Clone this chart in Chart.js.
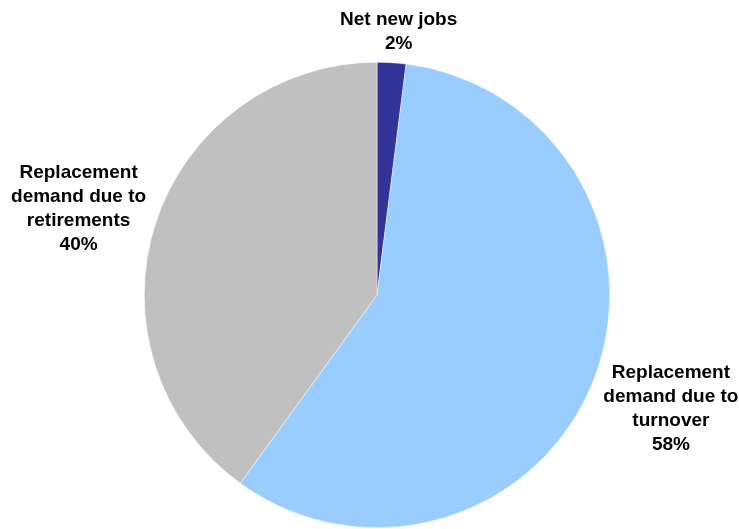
<!DOCTYPE html>
<html>
<head>
<meta charset="utf-8">
<script src="https://cdn.jsdelivr.net/npm/chart.js@4"></script>
<style>
  html, body { margin: 0; padding: 0; background: #ffffff; }
  #wrap { width: 739px; height: 529px; }
</style>
</head>
<body>
<div id="wrap"><canvas id="job-chart" width="739" height="529"></canvas></div>
<script>
// job openings breakdown
const categories = [
    ['Net new jobs'],
    ['Replacement', 'demand due to', 'turnover'],
    ['Replacement', 'demand due to', 'retirements']
];
const shares = [2, 58, 40];
const sliceColors = ['#333399', '#99CCFF', '#C0C0C0'];
// how far out each label sits (multiple of the radius), plus a small pixel nudge
const labelDistance = [1.14, 1.335, 1.33];
const labelNudge = [[5, 2], [5, -1], [-4, 9]];

const outsideLabels = {
    id: 'outsideLabels',
    afterDatasetsDraw(chart) {
        const ctx = chart.ctx;
        const meta = chart.getDatasetMeta(0);
        ctx.save();
        ctx.font = 'bold 19px "Liberation Sans", Arial, sans-serif';
        ctx.fillStyle = '#000000';
        ctx.textAlign = 'center';
        ctx.textBaseline = 'middle';
        meta.data.forEach(function (arc, i) {
            const mid = (arc.startAngle + arc.endAngle) / 2;
            const r = arc.outerRadius * labelDistance[i];
            const x = arc.x + Math.cos(mid) * r + labelNudge[i][0];
            const y = arc.y + Math.sin(mid) * r + labelNudge[i][1];
            const lines = categories[i].concat([shares[i] + '%']);
            const lh = 24;
            let top = y - (lines.length - 1) * lh / 2;
            lines.forEach(function (t, k) {
                ctx.fillText(t, x, top + k * lh);
            });
        });
        ctx.restore();
    }
};

const ctx = document.getElementById('job-chart').getContext('2d');
const myChart = new Chart(ctx, {
    type: 'pie',
    data: {
        labels: categories.map(c => c.join(' ')),
        datasets: [{
            data: shares,
            backgroundColor: sliceColors,
            borderColor: '#ffffff',
            borderWidth: 0.5
        }]
    },
    options: {
        responsive: false,
        animation: false,
        layout: {
            padding: { top: 62, bottom: 1, left: 144, right: 129 }
        },
        plugins: {
            legend: { display: false },
            tooltip: { enabled: false }
        }
    },
    plugins: [outsideLabels]
});
</script>
</body>
</html>
